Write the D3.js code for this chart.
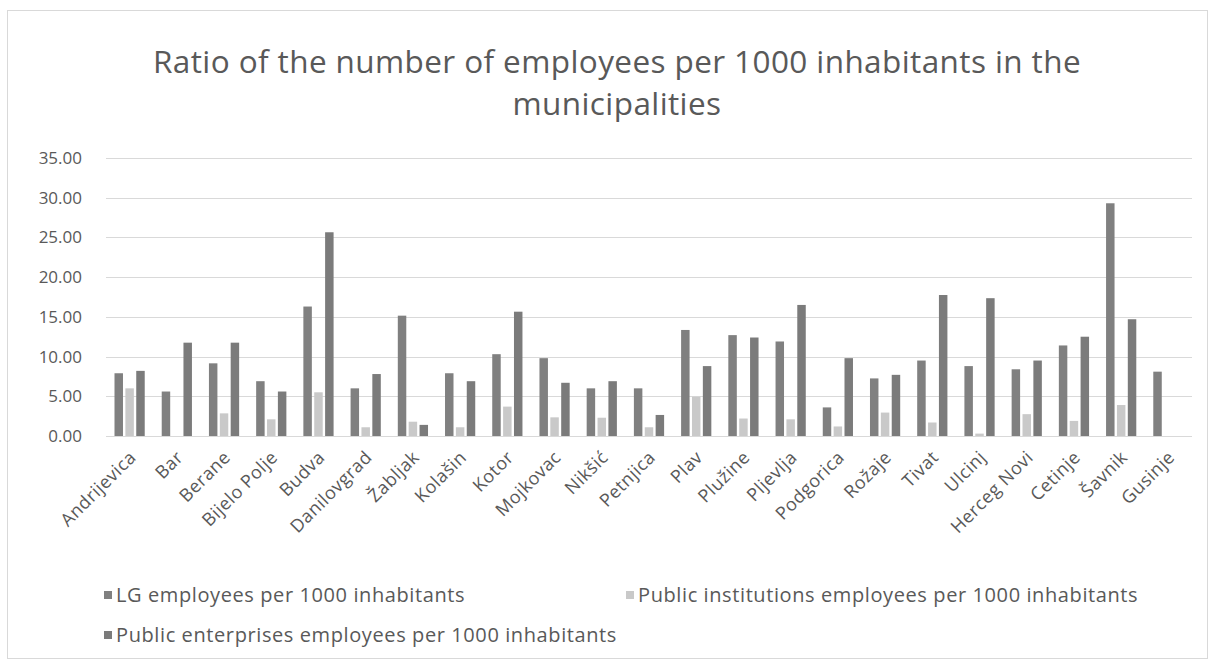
<!DOCTYPE html>
<html>
<head>
<meta charset="utf-8">
<script src="https://cdn.jsdelivr.net/npm/d3@7"></script>
<style>
  body { margin: 0; background: #fff; }
  svg { display: block; font-family: "Open Sans", sans-serif; }
</style>
</head>
<body>
<svg id="chart" width="1214" height="663"></svg>
<script>
// Municipalities on the x axis
const municipalities = ["Andrijevica", "Bar", "Berane", "Bijelo Polje", "Budva", "Danilovgrad", "Žabljak",
    "Kolašin", "Kotor", "Mojkovac", "Nikšić", "Petnjica", "Plav", "Plužine", "Pljevlja", "Podgorica",
    "Rožaje", "Tivat", "Ulcinj", "Herceg Novi", "Cetinje", "Šavnik", "Gusinje"];

// Series values
const lgEmployees = [7.9, 5.6, 9.15, 6.9, 16.3, 6.0, 15.15, 7.9, 10.3, 9.8, 6.0, 6.0, 13.35, 12.7, 11.9, 3.6,
    7.25, 9.5, 8.8, 8.4, 11.4, 29.3, 8.1];
const publicInstitutions = [6.0, 0, 2.85, 2.1, 5.5, 1.1, 1.8, 1.1, 3.7, 2.35, 2.3, 1.1, 4.95, 2.2, 2.1, 1.2,
    2.95, 1.7, 0.3, 2.75, 1.9, 3.9, 0];
const publicEnterprises = [8.2, 11.75, 11.75, 5.6, 25.65, 7.8, 1.4, 6.9, 15.65, 6.7, 6.9, 2.65, 8.8, 12.4, 16.5, 9.8,
    7.7, 17.75, 17.35, 9.5, 12.5, 14.7, 0];

const seriesNames = ["LG employees per 1000 inhabitants",
    "Public institutions employees per 1000 inhabitants",
    "Public enterprises employees per 1000 inhabitants"];
const seriesColors = ["#808080", "#c9c9c9", "#7b7b7b"];
const yTicks = [0, 5, 10, 15, 20, 25, 30, 35];

const titleLines = ["Ratio of the number of employees per 1000 inhabitants in the", "municipalities"];

const svg = d3.select("#chart");
const textColor = "#595959";

// Outer chart border
svg.append("rect")
    .attr("x", 7.5).attr("y", 10.5)
    .attr("width", 1200).attr("height", 648)
    .attr("fill", "none")
    .attr("stroke", "#d9d9d9");

// Title
svg.append("g").selectAll("text")
    .data(titleLines)
    .join("text")
    .attr("x", 617)
    .attr("y", (d, i) => 73 + i * 42)
    .attr("text-anchor", "middle")
    .attr("font-size", 31.5)
    .attr("letter-spacing", 0.4)
    .attr("fill", textColor)
    .text(d => d);

// Scales
const x = d3.scaleBand().domain(municipalities).range([106, 1192]).paddingInner(0.36).paddingOuter(0.18);
const xSeries = d3.scaleBand().domain([0, 1, 2]).range([0, x.bandwidth()]).paddingInner(0.22);
const y = d3.scaleLinear().domain([0, 35]).range([436, 158]);

// Gridlines
svg.append("g").selectAll("line")
    .data(yTicks)
    .join("line")
    .attr("x1", 106).attr("x2", 1192)
    .attr("y1", d => Math.round(y(d)) + 0.5)
    .attr("y2", d => Math.round(y(d)) + 0.5)
    .attr("stroke", "#d9d9d9")
    .attr("stroke-width", 1);

// Y axis labels
svg.append("g").selectAll("text")
    .data(yTicks)
    .join("text")
    .attr("x", 82)
    .attr("y", d => y(d))
    .attr("dy", "0.35em")
    .attr("text-anchor", "end")
    .attr("font-size", 17)
    .attr("fill", textColor)
    .text(d => d3.format(".2f")(d));

// Bars
const seriesData = [lgEmployees, publicInstitutions, publicEnterprises];
seriesData.forEach((values, s) => {
    svg.append("g").selectAll("rect")
        .data(values)
        .join("rect")
        .attr("x", (d, i) => x(municipalities[i]) + xSeries(s))
        .attr("width", xSeries.bandwidth())
        .attr("y", d => y(d))
        .attr("height", d => y(0) - y(d))
        .attr("fill", seriesColors[s]);
});

// X axis labels, rotated
svg.append("g").selectAll("text")
    .data(municipalities)
    .join("text")
    .attr("transform", d => `translate(${x(d) + x.bandwidth() / 2 + 3},${454}) rotate(-45)`)
    .attr("text-anchor", "end")
    .attr("dy", "0.35em")
    .attr("font-size", 18)
    .attr("letter-spacing", 0.5)
    .attr("fill", textColor)
    .text(d => d);

// Legend
const legendPos = [[104, 595], [626, 595], [104, 635]];
const legend = svg.append("g").selectAll("g")
    .data(seriesNames)
    .join("g")
    .attr("transform", (d, i) => `translate(${legendPos[i][0]},${legendPos[i][1]})`);
legend.append("rect")
    .attr("x", 0).attr("y", -4)
    .attr("width", 8).attr("height", 8)
    .attr("fill", (d, i) => seriesColors[i]);
legend.append("text")
    .attr("x", 12)
    .attr("dy", "0.35em")
    .attr("font-size", 20)
    .attr("letter-spacing", 0.6)
    .attr("fill", textColor)
    .text(d => d);
</script>
</body>
</html>
